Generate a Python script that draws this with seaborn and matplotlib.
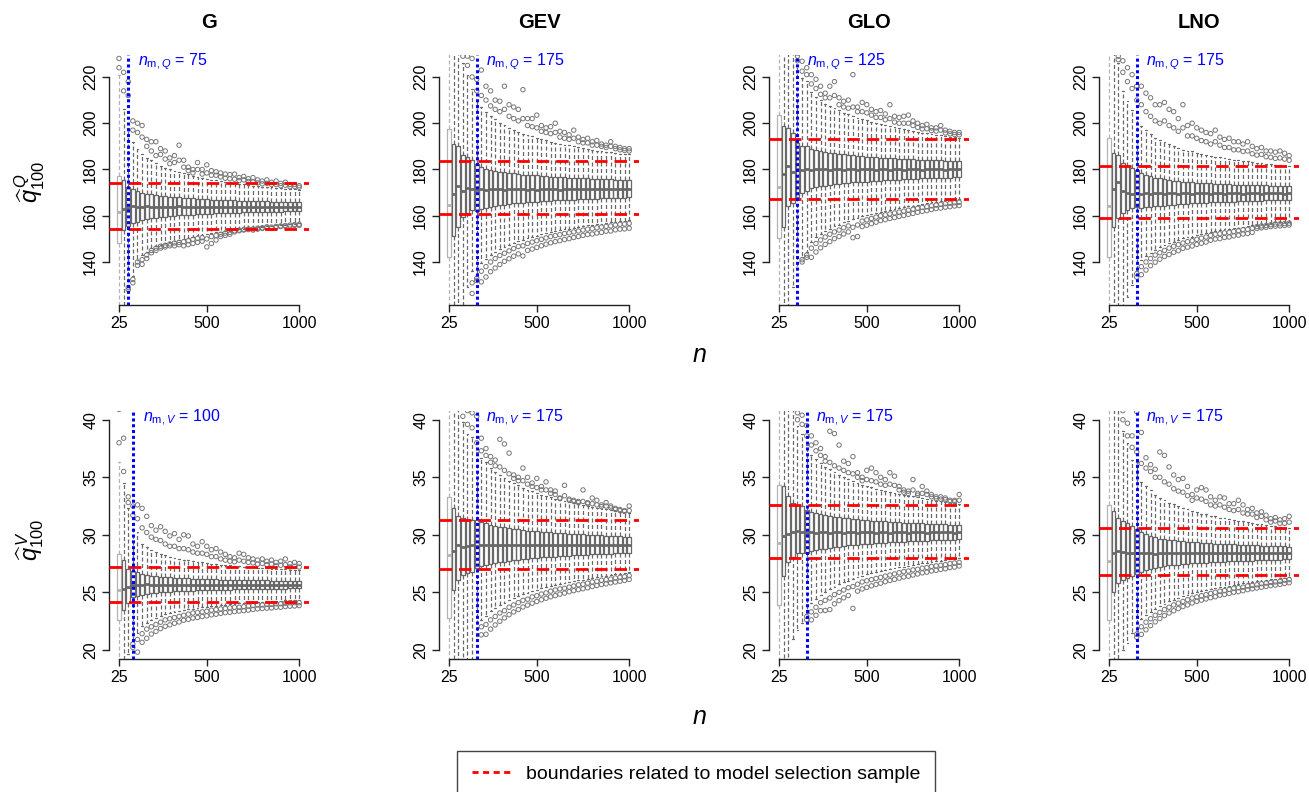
import numpy as np
import pandas as pd
import matplotlib
matplotlib.use("Agg")
import matplotlib.pyplot as plt
import seaborn as sns
from matplotlib.lines import Line2D

sns.set_style("ticks")
plt.rcParams["font.family"] = ["Liberation Sans", "DejaVu Sans"]
plt.rcParams["mathtext.fontset"] = "custom"
plt.rcParams["mathtext.rm"] = "Liberation Sans"
plt.rcParams["mathtext.it"] = "Liberation Sans:italic"
plt.rcParams["mathtext.bf"] = "Liberation Sans:bold"
plt.rcParams["text.color"] = "black"
plt.rcParams["axes.labelcolor"] = "black"
plt.rcParams["xtick.color"] = "black"
plt.rcParams["ytick.color"] = "black"

# ---------------- data ----------------
sample_sizes = list(range(25, 1001, 25))
models = ["G", "GEV", "GLO", "LNO"]
x_tick_labels = ["25", "500", "1000"]
n_m_Q = [75, 175, 125, 175]
n_m_V = [100, 175, 175, 175]
bounds_Q = [(174.2, 154.4), (183.8, 160.8), (193.3, 167.2), (181.4, 158.9)]
bounds_V = [(27.2, 24.15), (31.25, 27.0), (32.6, 27.95), (30.55, 26.5)]
yticks_Q = [140, 160, 180, 200, 220]
yticks_V = [20, 25, 30, 35, 40]
N6 = [None] * 6

# --- G, Q ---
med_G_Q = [161.5, 163.0, 163.5, 164.0, 163.6, 163.8, 164.1, 163.7, 163.9, 163.8, 163.6, 163.9, 163.8, 164.0, 163.7, 163.8, 163.9, 163.6, 163.8, 163.9, 163.7, 163.8, 163.9, 163.8, 163.6, 163.8, 163.9, 163.7, 163.8, 163.8, 163.9, 163.7, 163.8, 163.8, 163.9, 163.7, 163.8, 163.8, 163.7, 163.8]
q1_G_Q = [148, 154, 155.5, 156.7, 157.5, 158.1, 158.5, 158.9, 159.2, 159.4, 159.6, 159.8, 160.0, 160.1, 160.2, 160.3, 160.5, 160.6, 160.7, 160.8, 160.9, 161.0, 161.0, 161.1, 161.2, 161.3, 161.3, 161.4, 161.5, 161.5, 161.6, 161.6, 161.7, 161.7, 161.8, 161.8, 161.9, 161.9, 162.0, 162.0]
q3_G_Q = [177, 175.5, 172.5, 171.4, 170.6, 170.0, 169.6, 169.3, 169.0, 168.7, 168.5, 168.3, 168.1, 168.0, 167.8, 167.7, 167.5, 167.4, 167.3, 167.1, 167.0, 167.0, 166.9, 166.8, 166.7, 166.6, 166.5, 166.5, 166.4, 166.3, 166.3, 166.2, 166.2, 166.1, 166.1, 166.0, 166.0, 165.9, 165.9, 165.8]
whi_G_Q = [221, 206, 198, 192, 189, 186.8, 185, 183.9, 182.7, 181.7, 180.8, 180.2, 179.4, 178.9, 178.3, 177.9, 177.3, 176.9, 176.5, 175.9, 175.5, 175.4, 175.0, 174.6, 174.4, 174.0, 173.8, 173.6, 173.3, 173.0, 172.9, 172.6, 172.5, 172.3, 172.1, 171.9, 171.7, 171.5, 171.4, 171.3]
wlo_G_Q = [110, 118, 130, 134, 141, 143, 144.5, 146, 147, 147.5, 148, 148.5, 149, 149.5, 150, 150.5, 151, 151.5, 151.8, 152, 152.5, 152.8, 153, 153.3, 153.6, 154, 154.2, 154.4, 154.6, 154.8, 155, 155.2, 155.4, 155.6, 155.8, 156, 156.2, 156.4, 156.6, 156.8]
ohi_G_Q = [228, 222, 218, 201, 200, 199, 193, 192, 192, 189, 188, 185, 186, 190.5, 184, 181, 180, 183, 180, 182, 179.5, 179, 178.5, 178, 177.8, 178, 176.5, 177, 176, 176.5, 175.5, 175, 175.5, 174.5, 175, 174, 174.5, 173.5, 173.5, 173]
ohi2_G_Q = [224, 214, 212, 197, 196, 194, 190, 188, 186, 186.5, 184.5, 182.5, 183, 184, 181, 179.5, 178.5, 180, 178, 178.5, 177.5, 177.5, 176.8, 176.2, 176, 175.8, 175.2, 175.5, 174.8, 174.6, 174.2, 173.8, 174, 173.5, 173.5, 173, 173.2, 172.6, 172.6, 172.3]
olo_G_Q = [None, None, 128, 131, 138.5, 139, 141.5, 144, 145, 146, 146.5, 147, 147, 147.5, 147, 147.5, 148, 148.5, 149, 146.5, 148, 149.5, 151, 151.5, 152, 153, 153.5, 153.8, 154, 153.8, 154.2, 154.5, 155, 154.5, 155, 155.3, 155.5, 155.5, 155.8, 155.8]
olo2_G_Q = [None, None, 129, 132.5, 140, 141, 143, 145, 146, 146.8, 147.2, 147.8, 148.2, 148.5, 148.8, 149.2, 149.8, 150.2, 150.5, 150, 151, 151.5, 152, 152.5, 152.8, 153.5, 153.8, 154.1, 154.3, 154.3, 154.6, 154.8, 155.2, 155.1, 155.4, 155.6, 155.8, 156, 156.2, 156.3]

# --- GEV, Q ---
med_GEV_Q = [164.7, 169.5, 173.0, 170.8, 172.0, 171.5, 171.3, 171.6, 171.2, 171.7, 171.4, 171.5, 171.2, 171.6, 171.4, 171.5, 171.7, 171.3, 171.5, 171.2, 171.6, 171.4, 171.5, 171.6, 171.3, 171.5, 171.4, 171.6, 171.5, 171.4, 171.5, 171.6, 171.4, 171.5, 171.5, 171.6, 171.4, 171.5, 171.6, 171.5]
q1_GEV_Q = [142.3, 151.3, 155.3, 159.6, 161.0, 162.5, 162.1, 162.9, 163.3, 163.8, 164.2, 164.5, 164.8, 165.0, 165.3, 165.5, 165.6, 165.8, 165.9, 166.1, 166.2, 166.4, 166.5, 166.6, 166.7, 166.8, 166.9, 167.0, 167.1, 167.2, 167.3, 167.3, 167.4, 167.5, 167.6, 167.6, 167.7, 167.8, 167.8, 167.9]
q3_GEV_Q = [197.6, 191.1, 190.0, 186.4, 185.6, 184.2, 182.4, 180.9, 180.3, 179.8, 179.5, 179.1, 178.8, 178.5, 178.3, 178.1, 177.8, 177.7, 177.5, 177.4, 177.2, 177.1, 176.9, 176.8, 176.7, 176.6, 176.5, 176.4, 176.3, 176.2, 176.1, 176.0, 175.9, 175.9, 175.8, 175.7, 175.6, 175.6, 175.5, 175.5]
whi_GEV_Q = [280, 250, 240, 226, 221, 214.7, 209.9, 207, 205, 203, 201.7, 200.3, 199.1, 198.1, 197.2, 196.4, 195.5, 195, 194.3, 193.8, 193.2, 192.6, 192, 191.6, 191.2, 190.8, 190.4, 190, 189.6, 189.3, 188.9, 188.6, 188.2, 188.1, 187.7, 187.4, 187.1, 186.9, 186.7, 186.5]
wlo_GEV_Q = [100, 100, 110, 120, 129, 135.9, 134, 139.5, 141.2, 143, 144.3, 145.5, 146.6, 147.4, 148.4, 149.1, 149.7, 150.3, 150.8, 151.4, 151.9, 152.5, 153, 153.3, 153.7, 154.1, 154.4, 154.8, 155.1, 155.5, 155.9, 156, 156.3, 156.6, 156.9, 157.1, 157.4, 157.7, 157.8, 158]
ohi_GEV_Q = [None, None, None, 235, 229, 228, 219, 223, 216, 214, 210, 209.5, 216, 208, 207, 206, 214.5, 202, 202, 203.5, 199, 198, 198.5, 200, 196.5, 196, 195, 197, 194, 193, 193.5, 192, 192.5, 191, 190.5, 192, 190, 189.5, 189, 189]
ohi2_GEV_Q = [None, None, None, 229, 225, 220, 214, 212, 210, 207.5, 206, 205, 206, 203, 202, 201, 202, 199, 198.5, 198, 196.5, 196, 195.5, 196, 194, 193.5, 193, 193.5, 192, 191.5, 191.5, 190.5, 190.5, 190, 189.5, 190, 189, 188.5, 188.2, 188]
olo_GEV_Q = [None, None, None, None, None, 126.4, 132, 131.4, 133.5, 135.8, 137.4, 138.9, 140.3, 141.4, 142.5, 143.5, 142.6, 145, 145.6, 146.3, 147, 147.7, 148.3, 148.8, 149.2, 149.7, 150.1, 150.6, 151, 151.5, 151.9, 152.1, 152.5, 152.8, 153.3, 153.4, 153.9, 154.2, 154.3, 154.6]
olo2_GEV_Q = [None, None, None, None, None, 131, 133, 136, 138, 140, 141.5, 142.8, 143.8, 144.8, 145.8, 146.7, 147, 148, 148.6, 149.2, 149.8, 150.4, 151, 151.4, 151.8, 152.3, 152.6, 153, 153.4, 153.8, 154.2, 154.4, 154.8, 155.1, 155.4, 155.6, 156, 156.3, 156.4, 156.7]

# --- GLO, Q ---
med_GLO_Q = [172.6, 178.1, 181.3, 178.7, 180.1, 179.9, 180.2, 179.8, 180.1, 180.0, 180.3, 179.9, 180.1, 180.0, 179.8, 180.2, 180.0, 179.9, 180.1, 180.0, 180.2, 179.9, 180.0, 180.1, 179.8, 180.0, 180.1, 179.9, 180.0, 180.2, 180.0, 179.9, 180.1, 180.0, 180.0, 180.1, 179.9, 180.0, 180.1, 180.0]
q1_GLO_Q = [150.3, 155.3, 164.0, 165.4, 168.3, 169.7, 170.5, 171.8, 172.3, 172.7, 173.0, 173.3, 173.6, 173.8, 174.0, 174.2, 174.4, 174.5, 174.7, 174.8, 175.0, 175.1, 175.2, 175.3, 175.4, 175.5, 175.6, 175.7, 175.8, 175.9, 176.0, 176.1, 176.2, 176.3, 176.4, 176.4, 176.5, 176.5, 176.6, 176.6]
q3_GLO_Q = [203.7, 198.6, 197.9, 195.7, 191.4, 190.0, 190.0, 188.8, 188.3, 187.9, 187.5, 187.3, 187.0, 186.8, 186.5, 186.3, 186.1, 185.9, 185.8, 185.6, 185.5, 185.3, 185.1, 185.0, 184.9, 184.8, 184.7, 184.6, 184.5, 184.4, 184.3, 184.2, 184.2, 184.1, 184.0, 183.9, 183.8, 183.7, 183.7, 183.6]
whi_GLO_Q = [280, 260, 245, 235, 225, 219.4, 218.3, 213.5, 211.5, 209.9, 208.5, 207.6, 206.4, 205.7, 204.6, 203.8, 203.1, 202.4, 201.9, 201.3, 200.7, 200.1, 199.5, 199.1, 198.7, 198.3, 197.9, 197.5, 197.1, 196.7, 196.3, 195.9, 195.8, 195.4, 195.0, 194.8, 194.4, 194.1, 194.0, 193.8]
wlo_GLO_Q = [100, 110, 118, 129, 137, 142.3, 144.2, 148.8, 150.7, 152.2, 153.4, 154.4, 155.5, 156.2, 157.1, 157.9, 158.6, 159.1, 159.7, 160.2, 160.8, 161.3, 161.8, 162.2, 162.6, 162.9, 163.3, 163.7, 164.1, 164.4, 164.8, 165.2, 165.4, 165.8, 166.1, 166.3, 166.6, 166.8, 167.0, 167.1]
ohi_GLO_Q = [None, None, None, None, 229, 226.8, 224, 221, 219, 216, 213, 216, 218, 211, 209.5, 210, 221, 207, 209, 208, 206, 205, 205.5, 204, 208, 203, 202.5, 203, 203.5, 201, 200, 199, 199.5, 198, 198, 199, 197, 196.5, 196, 196]
ohi2_GLO_Q = [None, None, None, None, 227, 222.5, 221, 217, 215, 212.5, 211, 211, 212, 208, 207, 206.5, 207, 205, 205, 204.5, 203.5, 202.5, 202.5, 201.5, 202, 200.5, 200, 200, 200, 199, 198.2, 197.5, 197.6, 196.8, 196.6, 197, 195.8, 195.4, 195.1, 195]
olo_GLO_Q = [None, None, None, None, None, 140, 142, 142, 144.3, 146.1, 147.6, 148.8, 150.1, 151, 152.1, 153, 150.5, 151, 155.3, 155.9, 156.6, 157.2, 157.9, 158.3, 158.8, 159.2, 159.7, 160.1, 160.6, 161, 161.5, 161.9, 162.2, 162.7, 163.1, 163.3, 163.7, 163.9, 164.2, 164.4]
olo2_GLO_Q = [None, None, None, None, None, 141, 143, 146, 148, 149.5, 150.8, 152, 153, 153.8, 154.8, 155.6, 155, 156, 157.7, 158.2, 158.8, 159.4, 160, 160.4, 160.8, 161.2, 161.6, 162, 162.4, 162.8, 163.2, 163.6, 163.9, 164.3, 164.6, 164.9, 165.2, 165.4, 165.6, 165.8]

# --- LNO, Q ---
med_LNO_Q = [164.0, 171.5, 174.8, 170.9, 169.8, 169.5, 169.9, 169.6, 169.8, 169.5, 169.7, 169.9, 169.6, 169.8, 169.7, 169.5, 169.8, 169.7, 169.6, 169.8, 169.7, 169.9, 169.6, 169.7, 169.8, 169.6, 169.7, 169.8, 169.7, 169.6, 169.7, 169.8, 169.7, 169.6, 169.7, 169.8, 169.7, 169.7, 169.6, 169.7]
q1_LNO_Q = [142.3, 155.3, 159.0, 161.0, 162.5, 163.2, 163.6, 163.4, 163.6, 163.8, 164.0, 164.2, 164.4, 164.6, 164.8, 164.9, 165.1, 165.2, 165.3, 165.4, 165.5, 165.6, 165.8, 165.9, 165.9, 166.0, 166.0, 166.1, 166.2, 166.3, 166.3, 166.4, 166.5, 166.5, 166.6, 166.6, 166.7, 166.7, 166.8, 166.8]
q3_LNO_Q = [193.6, 187.0, 186.4, 182.7, 181.7, 180.6, 179.9, 178.4, 177.6, 177.0, 176.5, 176.1, 175.8, 175.5, 175.2, 174.9, 174.7, 174.6, 174.5, 174.3, 174.2, 174.1, 174.0, 173.9, 173.8, 173.7, 173.7, 173.5, 173.5, 173.4, 173.3, 173.2, 173.2, 173.1, 173.1, 173.0, 172.9, 172.9, 172.9, 172.8]
whi_LNO_Q = [280, 240, 226, 214, 209.5, 205.8, 202.9, 199, 197, 195.5, 193.8, 192.8, 191.8, 191, 190.2, 189.4, 188.6, 188.2, 187.8, 187.2, 186.8, 186.4, 185.9, 185.5, 185.3, 184.9, 184.7, 184.2, 184.1, 183.7, 183.5, 183.1, 182.9, 182.7, 182.5, 182.3, 181.9, 181.9, 181.7, 181.5]
wlo_LNO_Q = [100, 105, 110, 121, 125, 130, 136, 140.9, 142.5, 144.1, 145.3, 146.4, 147.4, 148, 148.8, 149.4, 150.2, 150.6, 151, 151.6, 152, 152.4, 153.1, 153.5, 153.7, 154.1, 154.2, 154.6, 154.9, 155.3, 155.4, 155.9, 156.1, 156.3, 156.5, 156.7, 157.1, 157.1, 157.3, 157.5]
ohi_LNO_Q = [None, None, 229, 227, 224, 221, 216, 216, 213, 211, 208, 208, 209, 206, 205, 202, 208, 199, 200, 198, 197, 196, 195.5, 197, 194, 193, 193.5, 192, 192, 191, 192, 190, 189, 189.5, 188, 188, 187.5, 188, 187, 186]
ohi2_LNO_Q = [None, None, 227.5, 222, 218, 215, 210, 208, 205, 203, 201, 200, 201, 199, 198, 196.5, 198, 194.5, 194.5, 193.5, 192.5, 192, 191, 192, 190.5, 189.5, 189.5, 188.5, 188.5, 187.8, 188, 186.8, 186.2, 186.5, 185.5, 185.3, 184.8, 185, 184.5, 184]
olo_LNO_Q = N6 + [133.5, 134.5, 136.5, 138.4, 139.9, 141.2, 142.4, 143.2, 144.2, 144.9, 145.9, 146.4, 146.9, 147.6, 148.1, 148.6, 149.4, 149.9, 150.1, 150.6, 150.8, 151.3, 151.6, 152.1, 152.3, 152.8, 154.5, 154.8, 155.0, 155.3, 155.5, 155.6, 155.8, 156.0]
olo2_LNO_Q = N6 + [135, 138, 140, 141.5, 143, 144, 145, 146, 146.8, 147.5, 148.2, 148.8, 149.2, 149.8, 150.3, 150.8, 151.5, 152, 152.2, 152.6, 152.8, 153.2, 153.5, 154, 154.1, 154.5, 155.3, 155.6, 155.8, 156.1, 156.4, 156.5, 156.6, 156.8]

# --- G, V ---
med_G_V = [25.2, 25.3, 25.5, 25.6, 25.65, 25.62, 25.68, 25.64, 25.66, 25.63, 25.67, 25.65, 25.62, 25.66, 25.64, 25.67, 25.65, 25.63, 25.66, 25.65, 25.64, 25.66, 25.65, 25.63, 25.66, 25.65, 25.64, 25.66, 25.65, 25.65, 25.64, 25.66, 25.65, 25.64, 25.66, 25.65, 25.65, 25.64, 25.66, 25.65]
q1_G_V = [22.6, 23.5, 24.1, 24.55, 24.64, 24.79, 24.85, 24.91, 24.95, 24.99, 25.03, 25.05, 25.07, 25.09, 25.12, 25.13, 25.15, 25.16, 25.17, 25.18, 25.2, 25.21, 25.22, 25.23, 25.24, 25.25, 25.26, 25.26, 25.27, 25.28, 25.29, 25.29, 25.3, 25.3, 25.31, 25.31, 25.32, 25.33, 25.33, 25.34]
q3_G_V = [28.3, 27.8, 27.0, 26.85, 26.74, 26.59, 26.52, 26.45, 26.41, 26.36, 26.33, 26.3, 26.27, 26.25, 26.23, 26.21, 26.19, 26.18, 26.16, 26.15, 26.14, 26.13, 26.11, 26.1, 26.1, 26.09, 26.08, 26.07, 26.06, 26.05, 26.04, 26.03, 26.03, 26.02, 26.01, 26.01, 26.0, 26.0, 25.99, 25.99]
whi_G_V = [36.3, 34.5, 32.3, 31.0, 30.2, 29.2, 28.9, 28.7, 28.5, 28.35, 28.2, 28.1, 28.0, 27.9, 27.85, 27.8, 27.7, 27.65, 27.6, 27.55, 27.5, 27.45, 27.4, 27.35, 27.35, 27.3, 27.27, 27.24, 27.2, 27.17, 27.13, 27.1, 27.09, 27.06, 27.03, 27.03, 26.99, 26.97, 26.95, 26.93]
wlo_G_V = [15, 17, 19.6, 20.8, 21.5, 22.1, 22.35, 22.6, 22.76, 22.93, 23.08, 23.17, 23.27, 23.35, 23.45, 23.51, 23.59, 23.63, 23.68, 23.72, 23.79, 23.83, 23.88, 23.92, 23.95, 23.99, 24.03, 24.04, 24.08, 24.12, 24.16, 24.18, 24.2, 24.22, 24.26, 24.26, 24.3, 24.33, 24.34, 24.36]
ohi_G_V = [40.9, 38.4, 33.3, 32.5, 32.6, 32.3, 31.6, 30.8, 30.4, 30.7, 30.3, 29.9, 30.1, 29.6, 30.0, 29.9, 29.2, 29.0, 29.4, 29.0, 28.7, 28.8, 28.5, 28.3, 28.1, 28.0, 28.4, 28.3, 28.0, 27.9, 27.8, 27.9, 27.7, 27.8, 27.6, 27.7, 27.9, 27.5, 27.6, 27.5]
ohi2_G_V = [38.0, 35.5, 32.8, 31.7, 31.4, 30.6, 30.2, 29.8, 29.6, 29.5, 29.2, 29.0, 29.0, 28.8, 28.8, 28.7, 28.5, 28.4, 28.4, 28.3, 28.1, 28.1, 27.9, 27.8, 27.7, 27.65, 27.8, 27.7, 27.6, 27.55, 27.45, 27.5, 27.4, 27.45, 27.3, 27.35, 27.4, 27.2, 27.25, 27.2]
olo_G_V = [None, None, None, 20.2, 19.8, 20.65, 21.0, 21.37, 21.6, 21.84, 22.04, 22.17, 22.31, 22.42, 22.57, 22.65, 22.76, 22.81, 22.89, 22.95, 23.04, 23.09, 23.17, 23.23, 23.26, 23.32, 23.37, 23.4, 23.45, 23.51, 23.56, 23.59, 23.62, 23.64, 23.7, 23.7, 23.76, 23.79, 23.81, 23.84]
olo2_G_V = [None, None, None, 20.5, 20.9, 21.4, 21.8, 22.0, 22.2, 22.4, 22.6, 22.7, 22.8, 22.9, 23.0, 23.1, 23.2, 23.25, 23.3, 23.35, 23.45, 23.5, 23.55, 23.6, 23.65, 23.7, 23.7, 23.75, 23.8, 23.85, 23.9, 23.9, 23.95, 23.95, 24.0, 24.0, 24.05, 24.1, 24.1, 24.1]

# --- GEV, V ---
med_GEV_V = [28.2, 28.6, 29.1, 28.9, 29.0, 29.1, 29.05, 29.12, 29.08, 29.1, 29.13, 29.07, 29.1, 29.11, 29.09, 29.12, 29.1, 29.08, 29.11, 29.1, 29.12, 29.09, 29.1, 29.11, 29.08, 29.1, 29.12, 29.1, 29.09, 29.11, 29.1, 29.12, 29.09, 29.1, 29.11, 29.1, 29.1, 29.12, 29.09, 29.13]
q1_GEV_V = [22.75, 25.2, 26.1, 26.5, 26.7, 26.8, 27.12, 27.25, 27.35, 27.45, 27.54, 27.61, 27.67, 27.74, 27.79, 27.84, 27.89, 27.92, 27.96, 28.0, 28.03, 28.06, 28.09, 28.11, 28.14, 28.16, 28.19, 28.21, 28.23, 28.25, 28.26, 28.29, 28.31, 28.33, 28.34, 28.36, 28.38, 28.39, 28.41, 28.43]
q3_GEV_V = [33.3, 32.3, 31.6, 31.45, 31.3, 31.3, 31.25, 31.1, 30.99, 30.88, 30.8, 30.72, 30.64, 30.58, 30.52, 30.47, 30.42, 30.37, 30.33, 30.3, 30.26, 30.23, 30.2, 30.17, 30.14, 30.12, 30.09, 30.07, 30.05, 30.03, 30.0, 29.98, 29.96, 29.94, 29.92, 29.9, 29.89, 29.86, 29.85, 29.83]
whi_GEV_V = [45, 45, 45, 39.8, 38.8, 38.5, 37.2, 36.7, 36.3, 35.85, 35.5, 35.2, 34.95, 34.7, 34.5, 34.3, 34.1, 33.9, 33.8, 33.6, 33.5, 33.4, 33.25, 33.15, 33.05, 32.95, 32.85, 32.77, 32.7, 32.6, 32.5, 32.43, 32.35, 32.27, 32.2, 32.13, 32.08, 32.0, 31.94, 31.86]
wlo_GEV_V = [15, 15, 15, 15, 15, 15, 21.2, 22.6, 22.98, 23.33, 23.63, 23.88, 24.11, 24.33, 24.51, 24.68, 24.85, 24.98, 25.12, 25.24, 25.35, 25.46, 25.56, 25.64, 25.74, 25.81, 25.91, 25.98, 26.05, 26.11, 26.17, 26.26, 26.33, 26.4, 26.44, 26.51, 26.57, 26.63, 26.68, 26.75]
ohi_GEV_V = [None, None, None, 41.0, 40.8, 40.6, 40.3, 38.4, 37.5, 36.8, 36.5, 38.3, 37.9, 37.1, 35.2, 35.0, 35.8, 35.0, 34.5, 34.9, 34.2, 34.6, 33.9, 33.8, 33.2, 34.3, 33.1, 33.0, 32.9, 33.9, 32.8, 33.2, 33.0, 32.6, 32.8, 32.5, 32.3, 32.2, 32.1, 32.5]
ohi2_GEV_V = [None, None, None, 40.3, 39.6, 39.3, 38.0, 37.3, 36.9, 36.3, 36.0, 35.9, 35.6, 35.3, 34.9, 34.7, 34.7, 34.4, 34.2, 34.1, 33.9, 33.9, 33.6, 33.5, 33.15, 33.4, 33.0, 32.9, 32.8, 32.9, 32.7, 32.7, 32.6, 32.45, 32.5, 32.35, 32.2, 32.1, 32.03, 32.1]
olo_GEV_V = N6 + [None, 21.3, 21.35, 21.8, 22.16, 22.48, 22.77, 23.05, 23.29, 23.5, 23.72, 23.88, 24.05, 24.2, 24.35, 24.48, 24.61, 24.71, 24.84, 24.93, 25.05, 25.14, 25.23, 25.31, 25.39, 25.5, 25.59, 25.67, 25.73, 25.82, 25.89, 25.96, 26.03, 26.12]
olo2_GEV_V = N6 + [None, 22.0, 22.2, 22.6, 22.9, 23.2, 23.4, 23.7, 23.9, 24.1, 24.3, 24.4, 24.6, 24.7, 24.85, 24.95, 25.1, 25.2, 25.3, 25.35, 25.45, 25.55, 25.65, 25.7, 25.8, 25.9, 25.95, 26.05, 26.1, 26.15, 26.25, 26.3, 26.35, 26.45]

# --- GLO, V ---
med_GLO_V = [29.3, 29.9, 30.1, 30.2, 30.3, 30.2, 30.15, 30.22, 30.18, 30.2, 30.24, 30.17, 30.2, 30.21, 30.19, 30.22, 30.2, 30.18, 30.21, 30.2, 30.22, 30.19, 30.2, 30.21, 30.18, 30.2, 30.22, 30.2, 30.19, 30.21, 30.2, 30.22, 30.19, 30.2, 30.21, 30.2, 30.2, 30.22, 30.19, 30.2]
q1_GLO_V = [23.9, 26.4, 27.6, 28.1, 28.4, 28.4, 28.43, 28.55, 28.64, 28.73, 28.8, 28.87, 28.93, 28.98, 29.03, 29.07, 29.12, 29.15, 29.19, 29.22, 29.24, 29.27, 29.29, 29.32, 29.34, 29.36, 29.38, 29.4, 29.42, 29.44, 29.46, 29.48, 29.49, 29.51, 29.52, 29.54, 29.55, 29.57, 29.58, 29.6]
q3_GLO_V = [34.35, 34.2, 33.4, 32.75, 32.6, 32.5, 32.12, 31.99, 31.89, 31.79, 31.71, 31.65, 31.58, 31.52, 31.47, 31.42, 31.38, 31.34, 31.3, 31.27, 31.23, 31.21, 31.18, 31.16, 31.13, 31.11, 31.08, 31.06, 31.05, 31.03, 31.01, 30.99, 30.97, 30.95, 30.93, 30.92, 30.9, 30.88, 30.87, 30.85]
whi_GLO_V = [45, 45, 45, 41, 39.5, 38.8, 37.8, 36.98, 36.6, 36.23, 35.93, 35.68, 35.42, 35.2, 35.01, 34.83, 34.66, 34.52, 34.36, 34.24, 34.12, 34.02, 33.92, 33.83, 33.73, 33.65, 33.55, 33.47, 33.41, 33.34, 33.26, 33.18, 33.12, 33.04, 32.97, 32.92, 32.86, 32.78, 32.74, 32.66]
wlo_GLO_V = [15, 15, 15, 20.9, 21.7, 22.3, 23.2, 24.08, 24.41, 24.75, 25.02, 25.26, 25.48, 25.68, 25.86, 26.01, 26.18, 26.3, 26.45, 26.55, 26.65, 26.75, 26.83, 26.93, 27.01, 27.08, 27.17, 27.24, 27.3, 27.37, 27.44, 27.52, 27.57, 27.64, 27.69, 27.75, 27.79, 27.87, 27.9, 27.97]
ohi_GLO_V = [None, None, None, None, 40.6, 40.4, 39.5, 38.6, 38.0, 37.5, 36.8, 39.0, 38.8, 37.8, 36.4, 36.2, 36.8, 35.4, 35.0, 35.6, 35.8, 35.4, 35.0, 34.8, 35.4, 35.1, 34.2, 33.9, 33.8, 34.8, 33.6, 34.2, 33.8, 33.5, 33.3, 33.3, 33.2, 33.0, 33.0, 33.5]
ohi2_GLO_V = [None, None, None, None, 40.0, 39.6, 38.6, 37.8, 37.3, 36.9, 36.4, 36.3, 36.0, 35.8, 35.6, 35.4, 35.3, 35.0, 34.7, 34.8, 34.7, 34.6, 34.4, 34.3, 34.4, 34.3, 33.9, 33.7, 33.6, 33.9, 33.45, 33.6, 33.5, 33.3, 33.15, 33.1, 33.05, 32.9, 32.88, 33.0]
olo_GLO_V = N6 + [22.6, 22.6, 23.0, 23.4, 23.42, 23.5, 24.0, 24.28, 24.52, 24.72, 23.6, 25.1, 25.29, 25.43, 25.56, 25.68, 25.79, 25.92, 26.03, 26.12, 26.23, 26.33, 26.4, 26.5, 26.59, 26.69, 26.75, 26.85, 26.91, 26.99, 27.05, 27.15, 27.19, 27.29]
olo2_GLO_V = N6 + [22.9, 23.3, 23.7, 24.1, 24.3, 24.5, 24.8, 25.0, 25.2, 25.4, 25.5, 25.7, 25.9, 26.0, 26.1, 26.2, 26.3, 26.4, 26.5, 26.6, 26.7, 26.8, 26.85, 26.95, 27.0, 27.1, 27.15, 27.25, 27.3, 27.35, 27.4, 27.5, 27.55, 27.6]

# --- LNO, V ---
med_LNO_V = [27.7, 28.4, 28.55, 28.5, 28.4, 28.4, 28.38, 28.42, 28.39, 28.41, 28.37, 28.4, 28.42, 28.38, 28.4, 28.41, 28.39, 28.42, 28.4, 28.38, 28.41, 28.4, 28.39, 28.42, 28.4, 28.41, 28.38, 28.4, 28.42, 28.39, 28.4, 28.41, 28.4, 28.38, 28.41, 28.4, 28.42, 28.39, 28.4, 28.41]
q1_LNO_V = [22.6, 25.0, 25.8, 26.1, 26.2, 26.4, 26.6, 26.8, 26.95, 27.05, 27.15, 27.23, 27.28, 27.33, 27.37, 27.41, 27.44, 27.47, 27.51, 27.54, 27.56, 27.58, 27.6, 27.62, 27.65, 27.66, 27.68, 27.7, 27.71, 27.73, 27.75, 27.76, 27.78, 27.79, 27.8, 27.82, 27.83, 27.84, 27.86, 27.87]
q3_LNO_V = [32.6, 32.1, 31.45, 31.2, 31.0, 30.8, 30.5, 30.25, 30.05, 29.9, 29.78, 29.67, 29.61, 29.56, 29.52, 29.48, 29.43, 29.4, 29.37, 29.34, 29.31, 29.29, 29.26, 29.24, 29.22, 29.2, 29.18, 29.16, 29.14, 29.13, 29.11, 29.09, 29.08, 29.06, 29.04, 29.03, 29.02, 29.0, 28.99, 28.97]
whi_LNO_V = [45, 45, 45, 39, 38, 36.5, 36.3, 34.6, 34.2, 33.9, 33.5, 33.21, 32.99, 32.79, 32.64, 32.48, 32.32, 32.2, 32.07, 31.95, 31.85, 31.77, 31.67, 31.59, 31.5, 31.43, 31.36, 31.28, 31.21, 31.16, 31.08, 31.02, 30.97, 30.9, 30.84, 30.78, 30.75, 30.68, 30.63, 30.57]
wlo_LNO_V = [15, 15, 15, 20.0, 20.6, 21.5, 21.6, 22.71, 23.03, 23.32, 23.59, 23.81, 24.02, 24.21, 24.36, 24.51, 24.65, 24.77, 24.91, 25.02, 25.11, 25.19, 25.28, 25.35, 25.45, 25.5, 25.58, 25.66, 25.71, 25.77, 25.85, 25.9, 25.96, 26.01, 26.06, 26.13, 26.16, 26.22, 26.28, 26.33]
ohi_LNO_V = [None, None, None, 40.8, 39.7, 38.6, 40.7, 38.9, 36.7, 36.1, 35.7, 37.2, 36.9, 35.9, 35.2, 34.8, 34.9, 34.2, 33.5, 33.9, 34.1, 33.9, 33.3, 33.0, 33.3, 33.2, 32.7, 32.7, 33.0, 32.6, 32.2, 32.3, 31.9, 32.0, 31.7, 31.4, 31.5, 31.3, 31.4, 31.6]
ohi2_LNO_V = [None, None, None, 40.0, 38.6, 37.6, 37.2, 36.2, 35.8, 35.5, 35.0, 35.0, 34.6, 34.4, 34.0, 33.8, 33.7, 33.4, 33.0, 33.2, 33.1, 32.9, 32.6, 32.5, 32.6, 32.4, 32.2, 32.1, 32.2, 31.9, 31.8, 31.8, 31.5, 31.6, 31.3, 31.1, 31.2, 31.0, 31.0, 31.1]
olo_LNO_V = N6 + [21.1, 21.34, 21.74, 22.1, 22.43, 22.72, 22.97, 23.2, 23.39, 23.58, 23.76, 23.9, 24.07, 24.21, 24.32, 24.42, 24.53, 24.62, 24.75, 24.81, 24.9, 25.0, 25.06, 25.14, 25.23, 25.3, 25.37, 25.44, 25.51, 25.58, 25.63, 25.69, 25.77, 25.83]
olo2_LNO_V = N6 + [21.35, 22.0, 22.4, 22.7, 23.0, 23.25, 23.5, 23.7, 23.9, 24.05, 24.2, 24.35, 24.5, 24.6, 24.7, 24.8, 24.9, 25.0, 25.1, 25.15, 25.25, 25.35, 25.4, 25.45, 25.55, 25.6, 25.65, 25.75, 25.8, 25.85, 25.9, 25.95, 26.05, 26.1]

panels_Q = [
    (med_G_Q, q1_G_Q, q3_G_Q, wlo_G_Q, whi_G_Q, [olo_G_Q, olo2_G_Q, ohi_G_Q, ohi2_G_Q]),
    (med_GEV_Q, q1_GEV_Q, q3_GEV_Q, wlo_GEV_Q, whi_GEV_Q, [olo_GEV_Q, olo2_GEV_Q, ohi_GEV_Q, ohi2_GEV_Q]),
    (med_GLO_Q, q1_GLO_Q, q3_GLO_Q, wlo_GLO_Q, whi_GLO_Q, [olo_GLO_Q, olo2_GLO_Q, ohi_GLO_Q, ohi2_GLO_Q]),
    (med_LNO_Q, q1_LNO_Q, q3_LNO_Q, wlo_LNO_Q, whi_LNO_Q, [olo_LNO_Q, olo2_LNO_Q, ohi_LNO_Q, ohi2_LNO_Q]),
]
panels_V = [
    (med_G_V, q1_G_V, q3_G_V, wlo_G_V, whi_G_V, [olo_G_V, olo2_G_V, ohi_G_V, ohi2_G_V]),
    (med_GEV_V, q1_GEV_V, q3_GEV_V, wlo_GEV_V, whi_GEV_V, [olo_GEV_V, olo2_GEV_V, ohi_GEV_V, ohi2_GEV_V]),
    (med_GLO_V, q1_GLO_V, q3_GLO_V, wlo_GLO_V, whi_GLO_V, [olo_GLO_V, olo2_GLO_V, ohi_GLO_V, ohi2_GLO_V]),
    (med_LNO_V, q1_LNO_V, q3_LNO_V, wlo_LNO_V, whi_LNO_V, [olo_LNO_V, olo2_LNO_V, ohi_LNO_V, ohi2_LNO_V]),
]

# ---------------- figure ----------------
W, H = 1309, 792
fig = plt.figure(figsize=(W / 100, H / 100), dpi=100)

BOX_DARK = "#686868"
BOX_LIGHT = "#b4b4b4"
AX_COL = "#222222"


def draw_panel(ax, stats, bounds, n_m, var, ylim, yticks):
    med, q1, q3, wlo, whi, outs = stats
    k = len(sample_sizes)
    rows = []
    for i in range(k):
        for v in (wlo[i], q1[i], med[i], q3[i], whi[i]):
            rows.append((i, float(v), "first" if i == 0 else "rest"))
    df = pd.DataFrame(rows, columns=["pos", "val", "grp"])
    sns.boxplot(
        data=df, x="pos", y="val", hue="grp", order=list(range(k)),
        hue_order=["first", "rest"],
        palette={"first": BOX_LIGHT, "rest": BOX_DARK},
        dodge=False, fill=False, width=0.8, whis=(0, 100), showfliers=False,
        linewidth=0.9, legend=False, ax=ax,
        whiskerprops=dict(linestyle=(0, (3.2, 2.0))),
        medianprops=dict(linewidth=2.0),
    )
    pos_out, val_out = [], []
    for arr in outs:
        a = np.array(arr, dtype=float)
        for i in range(k):
            if not np.isnan(a[i]):
                pos_out.append(i)
                val_out.append(a[i])
    dfo = pd.DataFrame({"pos": pos_out, "val": val_out})
    sns.scatterplot(data=dfo, x="pos", y="val", ax=ax, marker="o", s=10,
                    facecolor="none", edgecolor="#767676", linewidth=0.7,
                    legend=False, zorder=3)
    for b in bounds:
        ax.axhline(b, color="red", lw=2.0, linestyle=(0, (4.5, 2.5)), zorder=4)
    pos_m = sample_sizes.index(n_m)
    ax.axvline(pos_m, color="blue", lw=2.2, linestyle=(0, (1.0, 0.9)), zorder=5)
    ax.text(pos_m + 2.1, 0.972, r"$n_{\mathrm{m},%s}$ = %d" % (var, n_m),
            transform=ax.get_xaxis_transform(), color="blue", fontsize=11.5,
            ha="left", va="center", zorder=6)

    ax.set_xlim(-2.1, k - 1 + 2.1)
    ax.set_ylim(*ylim)
    ax.set_xticks([0, sample_sizes.index(500), k - 1])
    ax.set_xticklabels(x_tick_labels)
    ax.set_yticks(yticks)
    ax.set_yticklabels([str(t) for t in yticks])
    ax.set_xlabel("")
    ax.set_ylabel("")
    for s in ("top", "right"):
        ax.spines[s].set_visible(False)
    ax.spines["left"].set_bounds(yticks[0], yticks[-1])
    ax.spines["bottom"].set_bounds(0, k - 1)
    for s in ("left", "bottom"):
        ax.spines[s].set_color(AX_COL)
        ax.spines[s].set_linewidth(1.0)
    ax.tick_params(axis="both", direction="out", length=5, width=1.0,
                   color=AX_COL, labelsize=11.5, labelcolor="black", pad=3)
    ax.tick_params(axis="y", labelrotation=90)
    for lbl in ax.get_yticklabels():
        lbl.set_va("center")


lefts = [109.3, 439.3, 769.3, 1099.3]
aw = 199.6
row_specs = [
    (55.0, 305.0, panels_Q, bounds_Q, n_m_Q, "Q", (121.4, 229.5), yticks_Q),
    (410.8, 659.0, panels_V, bounds_V, n_m_V, "V", (19.2, 40.78), yticks_V),
]
for top, bot, panels, bnds, nms, var, ylim, yt in row_specs:
    for j in range(4):
        ax = fig.add_axes([lefts[j] / W, 1 - bot / H, aw / W, (bot - top) / H])
        draw_panel(ax, panels[j], bnds[j], nms[j], var, ylim, yt)

# titles
for j, m in enumerate(models):
    fig.text((lefts[j] + aw / 2) / W, 1 - 22 / H, m, fontsize=14.5,
             fontweight="bold", color="black", ha="center", va="center")

# y labels
fig.text(30 / W, 1 - 182 / H, r"$\widehat{q}^{\,Q}_{100}$", rotation=90,
         fontsize=17, ha="center", va="center")
fig.text(30 / W, 1 - 540 / H, r"$\widehat{q}^{\,V}_{100}$", rotation=90,
         fontsize=17, ha="center", va="center")

# x labels
fig.text(700 / W, 1 - 355 / H, "n", style="italic", fontsize=18, ha="center", va="center")
fig.text(700 / W, 1 - 717 / H, "n", style="italic", fontsize=18, ha="center", va="center")

# legend
h = Line2D([0], [0], color="red", lw=2.0, linestyle=(0, (2.2, 1.6)))
leg = fig.legend(handles=[h], labels=["boundaries related to model selection sample"],
                 loc="upper left", bbox_to_anchor=(457 / W, 1 - 751 / H),
                 borderaxespad=0, frameon=True, fancybox=False, fontsize=14,
                 handlelength=2.06, handletextpad=0.72, borderpad=0.75)
leg.get_frame().set_edgecolor("#444444")
leg.get_frame().set_linewidth(1.0)
leg.get_frame().set_alpha(1)
for t in leg.get_texts():
    t.set_color("black")

fig.savefig("out.png", dpi=100)
